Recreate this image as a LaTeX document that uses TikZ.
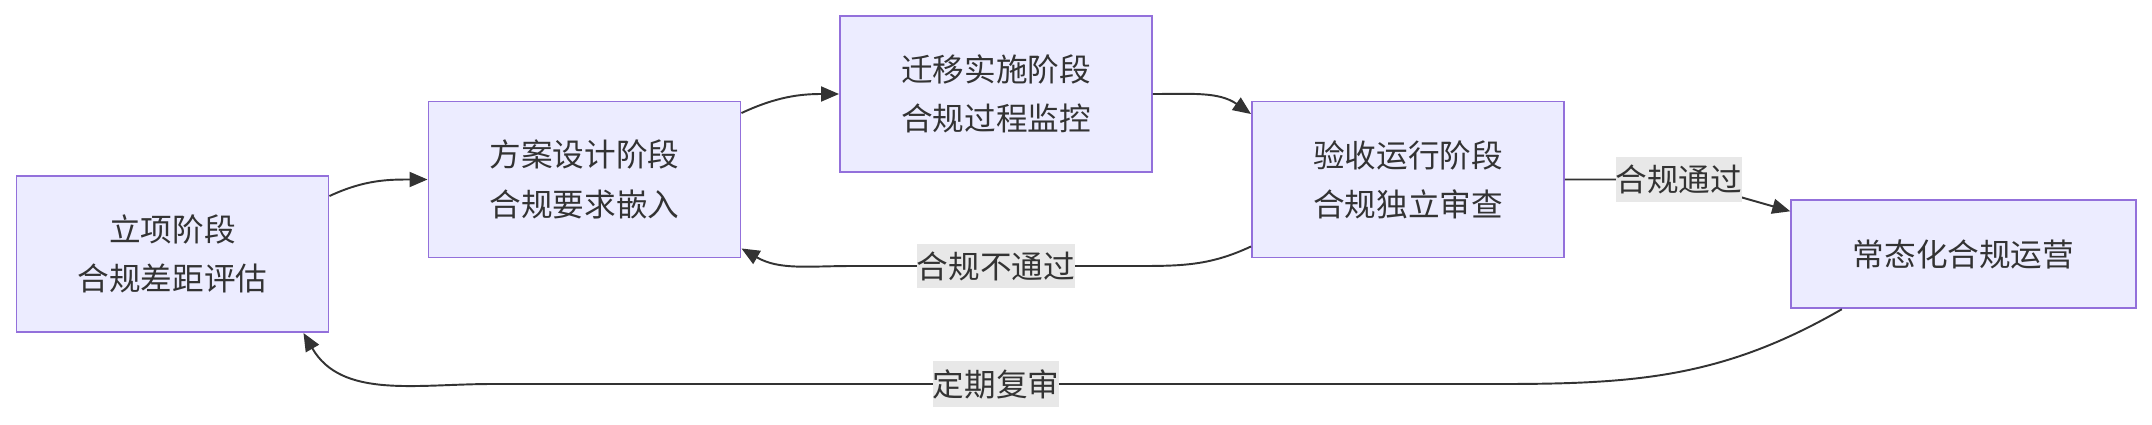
\documentclass[tikz,border=0pt]{standalone}
\usepackage{fontspec}
\newfontfamily\cjk{Noto Sans CJK SC}
\usetikzlibrary{arrows.meta}
\definecolor{boxfill}{HTML}{ECECFF}
\definecolor{boxline}{HTML}{9370DB}
\definecolor{ink}{HTML}{333333}
\definecolor{lblbg}{HTML}{E8E8E8}
\tikzset{
  stagebox/.style={draw=boxline, fill=boxfill, line width=1.1pt, minimum width=6.24cm,
    minimum height=3.12cm, align=center, text=ink, font=\cjk\fontsize{18}{28}\selectfont},
  edgelbl/.style={fill=lblbg, text=ink, inner xsep=0pt, inner ysep=4.5pt,
    font=\cjk\fontsize{18}{22}\selectfont},
}
\begin{document}
\begin{tikzpicture}[>={Triangle[length=0.36cm,width=0.3cm]}, line width=1.1pt]
      \useasboundingbox (0,0) rectangle (43.04,-8.48);

      \begin{scope}[name prefix = stage-]
         \node[stagebox] (1) at (3.45,-5.08) {立项阶段\\合规差距评估};
         \node[stagebox] (2) at (11.69,-3.59) {方案设计阶段\\合规要求嵌入};
         \node[stagebox] (3) at (19.92,-1.88) {迁移实施阶段\\合规过程监控};
         \node[stagebox] (4) at (28.16,-3.59) {验收运行阶段\\合规独立审查};
         \node[stagebox, minimum width=6.89cm, minimum height=2.17cm] (5) at (39.27,-5.08) {常态化合规运营};
      \end{scope}

      \begin{scope}[draw=ink]
         \draw[->] ([yshift=-0.42cm]stage-1.north east) to[out=25,in=180] (stage-2.west);
         \draw[->] ([yshift=-0.25cm]stage-2.north east) to[out=25,in=180] (stage-3.west);
         \draw[->] (stage-3.east) to[out=0,in=145] ([yshift=-0.27cm]stage-4.north west);
         \draw[->] ([yshift=0.24cm]stage-4.south west) to[out=-155,in=0] (22.8,-5.32)
            -- node[edgelbl] (fail) {合规不通过} (17.04,-5.32)
            to[out=180,in=-30] ([yshift=0.2cm]stage-2.south east);
         \draw[->] (stage-4.east) -- ++(2.28,0) node[edgelbl] (pass) {合规通过}
            -- ([yshift=-0.25cm]stage-5.north west);
         \draw[->] ([xshift=1.03cm]stage-5.south west) to[out=-150,in=0] (30.0,-7.68)
            -- node[edgelbl] (review) {定期复审} (9.84,-7.68)
            to[out=180,in=-60] ([xshift=-0.52cm]stage-1.south east);
      \end{scope}
   \end{tikzpicture}
\end{document}
